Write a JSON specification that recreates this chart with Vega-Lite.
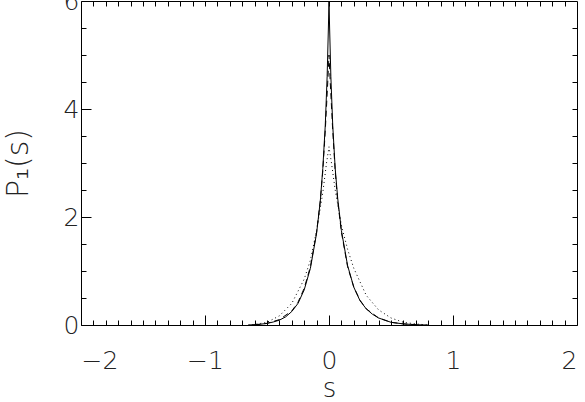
{
  "$schema": "https://vega.github.io/schema/vega-lite/v6.json",
  "autosize": "none",
  "width": 496,
  "height": 324,
  "padding": {"left": 81, "top": 1, "right": 7, "bottom": 77},
  "background": "white",
  "config": {
    "view": {"stroke": "black", "strokeWidth": 1},
    "axis": {"grid": false, "domain": false, "tickColor": "black", "labelFont": "DejaVu Sans", "labelFontWeight": 200, "labelColor": "#222", "titleFont": "DejaVu Sans", "titleFontWeight": 200, "titleColor": "#222"}
  },
  "data": {"values": [
    {"s": -0.65, "p": 0.0, "c": "solid"},
    {"s": -0.55, "p": 0.015, "c": "solid"},
    {"s": -0.5, "p": 0.03, "c": "solid"},
    {"s": -0.45, "p": 0.055, "c": "solid"},
    {"s": -0.4, "p": 0.09, "c": "solid"},
    {"s": -0.35, "p": 0.15, "c": "solid"},
    {"s": -0.3, "p": 0.25, "c": "solid"},
    {"s": -0.25, "p": 0.4, "c": "solid"},
    {"s": -0.2, "p": 0.65, "c": "solid"},
    {"s": -0.15, "p": 1.05, "c": "solid"},
    {"s": -0.1, "p": 1.7, "c": "solid"},
    {"s": -0.07, "p": 2.3, "c": "solid"},
    {"s": -0.05, "p": 2.9, "c": "solid"},
    {"s": -0.03, "p": 3.7, "c": "solid"},
    {"s": -0.015, "p": 4.6, "c": "solid"},
    {"s": -0.005, "p": 5.5, "c": "solid"},
    {"s": 0.0, "p": 6.0, "c": "solid"},
    {"s": 0.005, "p": 5.5, "c": "solid"},
    {"s": 0.015, "p": 4.6, "c": "solid"},
    {"s": 0.03, "p": 3.7, "c": "solid"},
    {"s": 0.05, "p": 2.9, "c": "solid"},
    {"s": 0.07, "p": 2.35, "c": "solid"},
    {"s": 0.1, "p": 1.75, "c": "solid"},
    {"s": 0.15, "p": 1.1, "c": "solid"},
    {"s": 0.2, "p": 0.7, "c": "solid"},
    {"s": 0.25, "p": 0.45, "c": "solid"},
    {"s": 0.3, "p": 0.3, "c": "solid"},
    {"s": 0.35, "p": 0.2, "c": "solid"},
    {"s": 0.4, "p": 0.13, "c": "solid"},
    {"s": 0.5, "p": 0.05, "c": "solid"},
    {"s": 0.6, "p": 0.02, "c": "solid"},
    {"s": 0.7, "p": 0.005, "c": "solid"},
    {"s": 0.8, "p": 0.0, "c": "solid"},
    {"s": -0.6, "p": 0.0, "c": "dashed"},
    {"s": -0.5, "p": 0.03, "c": "dashed"},
    {"s": -0.4, "p": 0.1, "c": "dashed"},
    {"s": -0.3, "p": 0.26, "c": "dashed"},
    {"s": -0.25, "p": 0.42, "c": "dashed"},
    {"s": -0.2, "p": 0.68, "c": "dashed"},
    {"s": -0.15, "p": 1.08, "c": "dashed"},
    {"s": -0.1, "p": 1.72, "c": "dashed"},
    {"s": -0.07, "p": 2.3, "c": "dashed"},
    {"s": -0.05, "p": 2.85, "c": "dashed"},
    {"s": -0.03, "p": 3.6, "c": "dashed"},
    {"s": -0.01, "p": 4.5, "c": "dashed"},
    {"s": 0.0, "p": 5.0, "c": "dashed"},
    {"s": 0.01, "p": 4.5, "c": "dashed"},
    {"s": 0.03, "p": 3.6, "c": "dashed"},
    {"s": 0.05, "p": 2.85, "c": "dashed"},
    {"s": 0.07, "p": 2.3, "c": "dashed"},
    {"s": 0.1, "p": 1.72, "c": "dashed"},
    {"s": 0.15, "p": 1.08, "c": "dashed"},
    {"s": 0.2, "p": 0.7, "c": "dashed"},
    {"s": 0.25, "p": 0.46, "c": "dashed"},
    {"s": 0.3, "p": 0.3, "c": "dashed"},
    {"s": 0.4, "p": 0.13, "c": "dashed"},
    {"s": 0.5, "p": 0.05, "c": "dashed"},
    {"s": 0.6, "p": 0.02, "c": "dashed"},
    {"s": 0.75, "p": 0.0, "c": "dashed"},
    {"s": -0.65, "p": 0.0, "c": "dotted"},
    {"s": -0.6, "p": 0.01, "c": "dotted"},
    {"s": -0.5, "p": 0.05, "c": "dotted"},
    {"s": -0.4, "p": 0.17, "c": "dotted"},
    {"s": -0.3, "p": 0.4, "c": "dotted"},
    {"s": -0.2, "p": 0.85, "c": "dotted"},
    {"s": -0.15, "p": 1.2, "c": "dotted"},
    {"s": -0.1, "p": 1.75, "c": "dotted"},
    {"s": -0.05, "p": 2.45, "c": "dotted"},
    {"s": -0.02, "p": 3.0, "c": "dotted"},
    {"s": 0.0, "p": 3.3, "c": "dotted"},
    {"s": 0.02, "p": 3.0, "c": "dotted"},
    {"s": 0.05, "p": 2.5, "c": "dotted"},
    {"s": 0.1, "p": 1.85, "c": "dotted"},
    {"s": 0.15, "p": 1.4, "c": "dotted"},
    {"s": 0.2, "p": 1.05, "c": "dotted"},
    {"s": 0.3, "p": 0.55, "c": "dotted"},
    {"s": 0.4, "p": 0.28, "c": "dotted"},
    {"s": 0.5, "p": 0.13, "c": "dotted"},
    {"s": 0.6, "p": 0.05, "c": "dotted"},
    {"s": 0.7, "p": 0.02, "c": "dotted"},
    {"s": 0.8, "p": 0.0, "c": "dotted"}
  ]},
  "resolve": {"scale": {"x": "shared", "y": "shared"}, "axis": {"x": "independent", "y": "independent"}},
  "layer": [
    {
      "transform": [{"filter": "datum.c === 'solid'"}],
      "mark": {"type": "line", "color": "black", "strokeWidth": 1},
      "encoding": {
        "x": {"field": "s", "type": "quantitative", "scale": {"domain": [-2, 2], "nice": false, "zero": false},
          "axis": {"orient": "bottom", "values": [-2, -1, 0, 1, 2], "tickSize": -10, "labelPadding": 33, "labelFontSize": 25, "title": "s", "titleFontSize": 26, "titlePadding": 2}},
        "y": {"field": "p", "type": "quantitative", "scale": {"domain": [0, 6], "nice": false},
          "axis": {"orient": "left", "values": [0, 2, 4, 6], "tickSize": -10, "labelPadding": 12, "labelFontSize": 25, "labelBaseline": "middle", "title": "P₁(s)", "titleFontSize": 30, "titlePadding": 30}}
      }
    },
    {
      "transform": [{"filter": "datum.c === 'dashed'"}],
      "mark": {"type": "line", "color": "black", "strokeWidth": 1, "strokeDash": [6, 4]},
      "encoding": {
        "x": {"field": "s", "type": "quantitative",
          "axis": {"orient": "bottom", "values": [-1.9, -1.8, -1.7, -1.6, -1.5, -1.4, -1.3, -1.2, -1.1, -0.9, -0.8, -0.7, -0.6, -0.5, -0.4, -0.3, -0.2, -0.1, 0.1, 0.2, 0.3, 0.4, 0.5, 0.6, 0.7, 0.8, 0.9, 1.1, 1.2, 1.3, 1.4, 1.5, 1.6, 1.7, 1.8, 1.9], "tickSize": -5, "labels": false, "title": null}},
        "y": {"field": "p", "type": "quantitative",
          "axis": {"orient": "left", "values": [0.5, 1, 1.5, 2.5, 3, 3.5, 4.5, 5, 5.5], "tickSize": -5, "labels": false, "title": null}}
      }
    },
    {
      "transform": [{"filter": "datum.c === 'dotted'"}],
      "mark": {"type": "line", "color": "black", "strokeWidth": 1, "strokeDash": [1, 3]},
      "encoding": {
        "x": {"field": "s", "type": "quantitative",
          "axis": {"orient": "top", "values": [-1.9, -1.8, -1.7, -1.6, -1.5, -1.4, -1.3, -1.2, -1.1, -1, -0.9, -0.8, -0.7, -0.6, -0.5, -0.4, -0.3, -0.2, -0.1, 0, 0.1, 0.2, 0.3, 0.4, 0.5, 0.6, 0.7, 0.8, 0.9, 1, 1.1, 1.2, 1.3, 1.4, 1.5, 1.6, 1.7, 1.8, 1.9], "tickSize": -5, "labels": false, "title": null}},
        "y": {"field": "p", "type": "quantitative",
          "axis": {"orient": "right", "values": [0.5, 1, 1.5, 2, 2.5, 3, 3.5, 4, 4.5, 5, 5.5], "tickSize": -5, "labels": false, "title": null}}
      }
    }
  ]
}
